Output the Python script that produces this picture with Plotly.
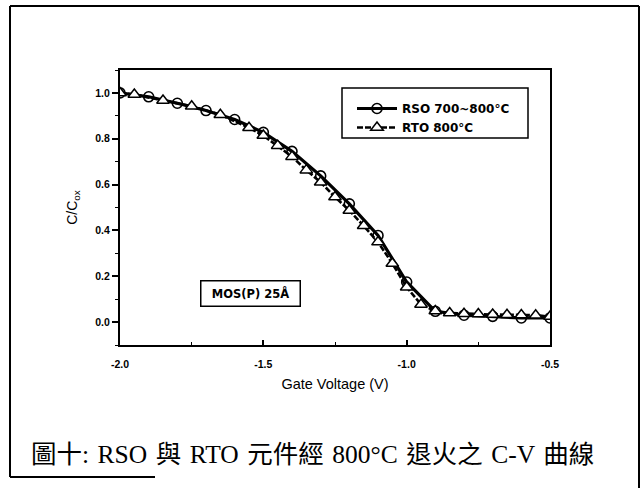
import plotly.graph_objects as go

# ---- data ----
rso_v = [-2.0, -1.9, -1.8, -1.7, -1.6, -1.5, -1.4, -1.3, -1.2, -1.1, -1.0, -0.9, -0.8, -0.7, -0.6, -0.5]
rso_c = [1.000, 0.983, 0.955, 0.923, 0.884, 0.828, 0.745, 0.638, 0.516, 0.378, 0.175, 0.047, 0.030, 0.025, 0.018, 0.018]

rto_v = [-2.0, -1.95, -1.85, -1.75, -1.65, -1.55, -1.5, -1.45, -1.4, -1.35, -1.3, -1.25, -1.2, -1.15,
         -1.1, -1.05, -1.0, -0.95, -0.9, -0.85, -0.8, -0.75, -0.7, -0.65, -0.6, -0.55, -0.5]
rto_c = [1.000, 0.993, 0.967, 0.942, 0.905, 0.848, 0.814, 0.770, 0.722, 0.663, 0.610, 0.546, 0.487, 0.420,
         0.349, 0.256, 0.152, 0.077, 0.048, 0.040, 0.036, 0.035, 0.033, 0.032, 0.031, 0.030, 0.024]

x_ticks = [-2.0, -1.5, -1.0, -0.5]
x_ticklabels = ["-2.0", "-1.5", "-1.0", "-0.5"]
y_ticks = [0.0, 0.2, 0.4, 0.6, 0.8, 1.0]
y_ticklabels = ["0.0", "0.2", "0.4", "0.6", "0.8", "1.0"]

series_names = ["RSO 700~800°C", "RTO 800°C"]
x_title = "Gate Voltage (V)"
y_title = "C/C<sub>ox</sub>"
sample_label = "MOS(P) 25Å"
caption = "圖十: RSO 與 RTO 元件經 800°C 退火之 C-V 曲線"

# ---- layout geometry (pixels) ----
W, H = 644, 488
L, R, T, B = 120, 94, 70, 143
PW, PH = W - L - R, H - T - B


def px(x):
    return (x - L) / PW


def py(y):
    return (H - B - y) / PH


fig = go.Figure()
fig.add_trace(go.Scatter(
    x=rso_v, y=rso_c, name=series_names[0], mode="lines+markers",
    line=dict(color="black", width=3.2),
    marker=dict(symbol="circle-open", size=10, color="black", line=dict(width=1.6)),
))
fig.add_trace(go.Scatter(
    x=rto_v, y=rto_c, name=series_names[1], mode="lines+markers",
    line=dict(color="black", width=2.6, dash="6px,2px"),
    marker=dict(symbol="triangle-up", size=11, color="white", line=dict(color="black", width=1.5)),
))

tick_font = dict(family="Liberation Sans, Arial", size=10.5, color="black", weight="bold")

fig.update_xaxes(
    range=[-2.0, -0.5], tickvals=x_ticks, ticktext=x_ticklabels,
    ticks="inside", ticklen=5, tickwidth=1.5, tickcolor="black",
    minor=dict(dtick=0.25, tick0=-2.0, ticks="inside", ticklen=3, tickwidth=1.2, tickcolor="black"),
    showline=True, linecolor="black", linewidth=2, mirror=True,
    showgrid=False, zeroline=False, tickfont=tick_font, ticklabelstandoff=8,
    title=dict(text=x_title, font=dict(family="Liberation Sans, Arial", size=14.5, color="black"), standoff=10),
)
fig.update_yaxes(
    range=[-0.1, 1.1], tickvals=y_ticks, ticktext=y_ticklabels,
    ticks="outside", ticklen=6, tickwidth=1.5, tickcolor="black",
    minor=dict(dtick=0.1, tick0=0, ticks="outside", ticklen=3, tickwidth=1.2, tickcolor="black"),
    showline=True, linecolor="black", linewidth=2, mirror=True,
    showgrid=False, zeroline=False, tickfont=tick_font,
    title=dict(text=y_title, font=dict(family="Liberation Sans, Arial", size=14, color="black"), standoff=14),
)

shapes = [
    # legend box
    dict(type="rect", xref="paper", yref="paper", x0=px(342), x1=px(528), y0=py(138), y1=py(88),
         line=dict(color="black", width=1.5)),
    # outer frame (scan border)
    dict(type="line", xref="paper", yref="paper", x0=px(10), x1=px(639), y0=py(6), y1=py(6),
         line=dict(color="black", width=2)),
    dict(type="line", xref="paper", yref="paper", x0=px(10), x1=px(10), y0=py(6), y1=py(477),
         line=dict(color="black", width=2)),
    dict(type="line", xref="paper", yref="paper", x0=px(639), x1=px(639), y0=py(6), y1=py(488),
         line=dict(color="black", width=2)),
    dict(type="line", xref="paper", yref="paper", x0=px(10), x1=px(155), y0=py(477), y1=py(477),
         line=dict(color="black", width=2)),
]

annotations = [
    dict(text=sample_label, xref="paper", yref="paper", x=px(200), y=py(306.5),
         showarrow=False, font=dict(family="DejaVu Sans", size=11.5, color="black", weight="bold"),
         bordercolor="black", borderwidth=1.5, borderpad=3, width=92, height=18, bgcolor="white"),
    dict(text=caption.replace(" ", " \u200a"), xref="paper", yref="paper", x=px(312), y=py(454),
         xanchor="center", yanchor="middle", showarrow=False,
         font=dict(family="Liberation Serif, Noto Sans CJK TC", size=25.5, color="black")),
]

fig.update_layout(
    width=W, height=H, margin=dict(l=L, r=R, t=T, b=B),
    paper_bgcolor="white", plot_bgcolor="white",
    showlegend=True,
    legend=dict(x=px(352), y=py(94), xanchor="left", yanchor="top",
                bgcolor="rgba(0,0,0,0)", borderwidth=0, itemwidth=40, tracegroupgap=0,
                font=dict(family="DejaVu Sans", size=12, color="black", weight="bold")),
    shapes=shapes, annotations=annotations,
)

fig.write_html("out.html")
